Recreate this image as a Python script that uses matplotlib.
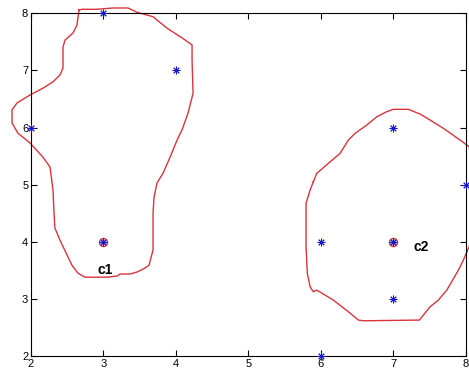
import matplotlib
matplotlib.use("Agg")
import matplotlib.pyplot as plt

plt.rcParams['font.family'] = ['Liberation Sans', 'DejaVu Sans']

# data points
px = [3, 4, 2, 3, 6, 7, 7, 8, 7, 6]
py = [8, 7, 6, 4, 4, 6, 4, 5, 3, 2]
# centroids
cx = [3, 7]
cy = [4, 4]
clabels = ['c1', 'c2']

# hand-drawn cluster outlines (data units)
c1x = [2.663, 2.709, 2.907, 3.133, 3.340, 3.464, 3.685, 3.878, 4.086, 4.224, 4.224, 4.238,
       4.168, 4.086, 4.017, 3.92, 3.823, 3.74, 3.699, 3.685, 3.685, 3.63, 3.575, 3.464,
       3.367, 3.23, 3.188, 3.05, 2.746, 2.649, 2.566, 2.497, 2.40, 2.33, 2.318, 2.304,
       2.262, 2.166, 1.986, 1.82, 1.738, 1.738, 1.807, 1.986, 2.166, 2.304, 2.40, 2.442,
       2.442, 2.47, 2.58, 2.635, 2.663]
c1y = [8.058, 8.07, 8.07, 8.093, 8.093, 8.018, 7.94, 7.74, 7.57, 7.445, 7.18, 6.60,
       6.25, 5.96, 5.78, 5.48, 5.20, 5.03, 4.78, 4.50, 3.855, 3.59, 3.54, 3.47,
       3.435, 3.435, 3.40, 3.38, 3.38, 3.45, 3.59, 3.77, 4.03, 4.24, 4.50, 4.905,
       5.31, 5.48, 5.73, 5.90, 6.08, 6.31, 6.43, 6.57, 6.69, 6.80, 6.92, 7.04,
       7.41, 7.53, 7.655, 7.795, 8.058]
c2x = [5.899, 5.946, 6.106, 6.268, 6.383, 6.475, 6.637, 6.775, 6.913, 7.004, 7.211, 7.373,
       7.511, 7.695, 7.925, 8.05, 8.13, 8.13, 8.05, 7.971, 7.902, 7.742, 7.626, 7.511,
       7.363, 6.59, 6.521, 6.383, 6.175, 5.946, 5.899, 5.854, 5.816, 5.798, 5.798, 5.854,
       5.899]
c2y = [5.051, 5.198, 5.373, 5.548, 5.781, 5.898, 6.044, 6.189, 6.277, 6.319, 6.319, 6.236,
       6.131, 5.986, 5.781, 5.664, 5.17, 4.29, 3.913, 3.68, 3.504, 3.154, 2.979, 2.862,
       2.629, 2.617, 2.629, 2.774, 2.979, 3.154, 3.124, 3.212, 3.447, 3.913, 4.673, 4.905,
       5.051]

fig = plt.figure(figsize=(4.69, 3.77), dpi=100)
ax = fig.add_axes([31/469, 21/377, 434.5/469, 342.7/377])

red = '#d9343c'
ax.plot(c1x, c1y, color=red, lw=1.0, clip_on=False, zorder=2)
ax.plot(c2x, c2y, color=red, lw=1.0, clip_on=False, zorder=2)

ax.plot(cx, cy, 'o', ms=6, mfc='#c8b4e0', mec=red, mew=0.8, clip_on=False, zorder=3)
ax.plot(px, py, ls='none', marker=(8, 2, 0), ms=5.5, color='#1818c8', mew=0.7,
        clip_on=False, zorder=4)

ax.text(3.02, 3.5, clabels[0], fontsize=10, fontweight='bold', ha='center', va='center')
ax.text(7.28, 3.91, clabels[1], fontsize=10, fontweight='bold', ha='left', va='center')

ax.set_xlim(2, 8)
ax.set_ylim(2, 8)
ax.set_xticks(range(2, 9))
ax.set_yticks(range(2, 9))
ax.tick_params(direction='in', top=True, right=True, labelsize=8, length=4, pad=2)
for s in ax.spines.values():
    s.set_linewidth(0.8)

fig.savefig('out.png', dpi=100)
